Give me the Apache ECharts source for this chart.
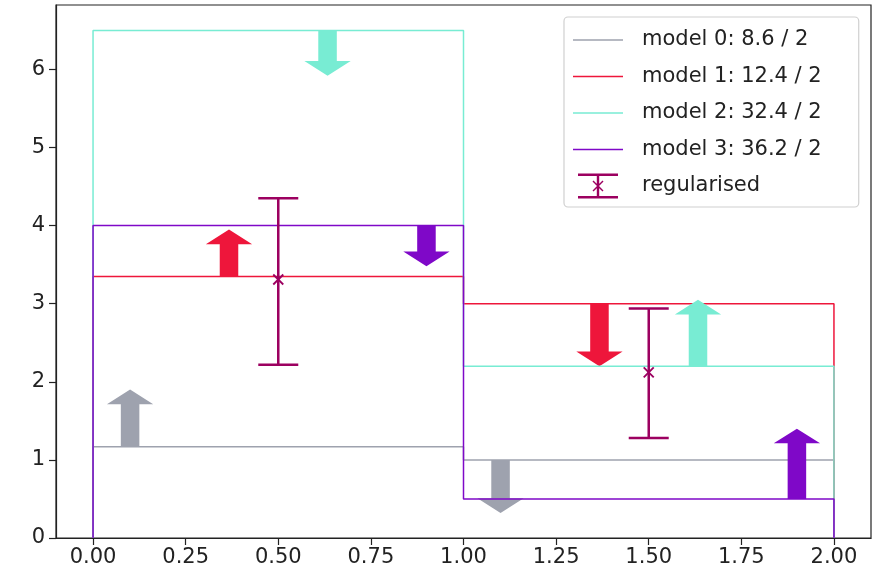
<!DOCTYPE html>
<html>
<head>
<meta charset="utf-8">
<script src="https://cdn.jsdelivr.net/npm/echarts@6/dist/echarts.min.js"></script>
<style>
html,body{margin:0;padding:0;background:#fff;}
#chart{width:875px;height:578px;}
</style>
</head>
<body>
<div id="chart"></div>
<script>
// ---- data ----
const binEdges = [0, 1, 2];
const modelNames = ['model 0: 8.6 / 2', 'model 1: 12.4 / 2', 'model 2: 32.4 / 2', 'model 3: 36.2 / 2'];
const modelColors = ['#9ea2ae', '#ee163b', '#78ecd3', '#7f08c8'];
const model0 = [1.17, 1.0];
const model1 = [3.35, 3.0];
const model2 = [6.5, 2.2];
const model3 = [4.0, 0.5];
const models = [model0, model1, model2, model3];
// arrows: x positions (one per bin) and length (start at bin value)
const arrowX0 = [0.1, 1.1];
const arrowX1 = [0.367, 1.367];
const arrowX2 = [0.633, 1.633];
const arrowX3 = [0.9, 1.9];
const arrowXs = [arrowX0, arrowX1, arrowX2, arrowX3];
const arrowDy0 = [0.73, -0.68];
const arrowDy1 = [0.6, -0.8];
const arrowDy2 = [-0.58, 0.85];
const arrowDy3 = [-0.52, 0.9];
const arrowDys = [arrowDy0, arrowDy1, arrowDy2, arrowDy3];
// regularised error bars
const regName = 'regularised';
const regX = [0.5, 1.5];
const regY = [3.31, 2.12];
const regLow = [2.22, 1.28];
const regHigh = [4.35, 2.94];
const regColor = '#9c0060';
// axis ticks
const xTicks = [0, 0.25, 0.5, 0.75, 1.0, 1.25, 1.5, 1.75, 2.0];
const yTicks = [0, 1, 2, 3, 4, 5, 6];

// ---- arrow geometry (data units, like matplotlib arrow) ----
const SHAFT_W = 0.05, HEAD_W = 0.125, HEAD_L = 0.1875;

const FONT = 'DejaVu Sans';
const series = [];
models.forEach((vals, k) => {
  const pts = [[binEdges[0], 0]];
  vals.forEach((v, i) => { pts.push([binEdges[i], v]); pts.push([binEdges[i + 1], v]); });
  pts.push([binEdges[binEdges.length - 1], 0]);
  series.push({
    name: modelNames[k], type: 'line', data: pts, symbol: 'none', z: 10 + k * 2,
    color: modelColors[k],
    lineStyle: { color: modelColors[k], width: 1.5 },
    animation: false
  });
  const adata = arrowXs[k].map((x, i) => [x, vals[i], arrowDys[k][i]]);
  series.push({
    name: modelNames[k] + ' arrows', type: 'custom', data: adata, z: 11 + k * 2,
    encode: { x: 0, y: 1 },
    renderItem: function (params, api) {
      const x = api.value(0), y0 = api.value(1), dy = api.value(2);
      const tip = y0 + dy, s = Math.sign(dy), sh = tip - s * HEAD_L;
      const poly = [[x - SHAFT_W / 2, y0], [x - SHAFT_W / 2, sh], [x - HEAD_W / 2, sh], [x, tip],
        [x + HEAD_W / 2, sh], [x + SHAFT_W / 2, sh], [x + SHAFT_W / 2, y0]].map(p => api.coord(p));
      return { type: 'polygon', shape: { points: poly }, style: { fill: modelColors[k] } };
    },
    animation: false
  });
});

series.push({
  name: regName, type: 'custom', z: 30, color: regColor,
  data: regX.map((x, i) => [x, regY[i], regLow[i], regHigh[i]]),
  encode: { x: 0, y: [1, 2, 3] },
  renderItem: function (params, api) {
    const x = api.value(0);
    const c = api.coord([x, api.value(1)]);
    const lo = api.coord([x, api.value(2)]);
    const hi = api.coord([x, api.value(3)]);
    const cap = 20, m = 5;
    const st = { stroke: regColor, lineWidth: 2.5 };
    return {
      type: 'group', children: [
        { type: 'line', shape: { x1: lo[0], y1: lo[1], x2: hi[0], y2: hi[1] }, style: st },
        { type: 'line', shape: { x1: lo[0] - cap, y1: lo[1], x2: lo[0] + cap, y2: lo[1] }, style: st },
        { type: 'line', shape: { x1: hi[0] - cap, y1: hi[1], x2: hi[0] + cap, y2: hi[1] }, style: st },
        { type: 'line', shape: { x1: c[0] - m, y1: c[1] - m, x2: c[0] + m, y2: c[1] + m }, style: { stroke: regColor, lineWidth: 1.8 } },
        { type: 'line', shape: { x1: c[0] - m, y1: c[1] + m, x2: c[0] + m, y2: c[1] - m }, style: { stroke: regColor, lineWidth: 1.8 } }
      ]
    };
  },
  animation: false
});

// legend icons (bounding boxes padded with tiny specks so they keep their proportions)
const lineIcon = 'path://M0,0L0.05,0L0.05,0.05Z M0,11.75L50,11.75L50,13.25L0,13.25Z M49.95,25L50,25L50,24.95Z';
const errIcon = 'path://M0,0L0.05,0L0.05,0.05Z M49.95,25L50,25L50,24.95Z ' +
  'M5,0L45,0L45,2.4L5,2.4Z M5,22.6L45,22.6L45,25L5,25Z M23.8,0L26.2,0L26.2,25L23.8,25Z ' +
  'M19.5,8L20.5,7L30.5,17L29.5,18Z M29.5,7L30.5,8L20.5,18L19.5,17Z';

const option = {
  animation: false,
  backgroundColor: '#fff',
  grid: { left: 56, right: 4, top: 5, bottom: 40, show: true, borderColor: '#222', borderWidth: 1.2, backgroundColor: 'transparent' },
  xAxis: {
    type: 'value', min: -0.1, max: 2.1,
    splitLine: { show: false },
    axisLine: { show: true, onZero: false, lineStyle: { color: '#222', width: 1.2 } },
    axisTick: { show: true, length: 7, customValues: xTicks, lineStyle: { color: '#222', width: 1.2 } },
    axisLabel: { customValues: xTicks, margin: 9, color: '#222', fontFamily: FONT, fontSize: 21,
      formatter: v => v.toFixed(2) }
  },
  yAxis: {
    type: 'value', min: 0, max: 6.825,
    splitLine: { show: false },
    axisLine: { show: true, onZero: false, lineStyle: { color: '#222', width: 1.2 } },
    axisTick: { show: true, length: 7, customValues: yTicks, lineStyle: { color: '#222', width: 1.2 } },
    axisLabel: { customValues: yTicks, margin: 11, color: '#222', fontFamily: FONT, fontSize: 21,
      formatter: v => String(v) }
  },
  legend: {
    orient: 'vertical', left: 564, top: 17,
    padding: [10.5, 37, 8.5, 9],
    itemWidth: 50, itemHeight: 25, itemGap: 11.5,
    selectedMode: false,
    backgroundColor: 'rgba(255,255,255,0.85)',
    borderColor: '#d0d0d0', borderWidth: 1.2, borderRadius: 4,
    textStyle: { fontFamily: FONT, fontSize: 21, color: '#222', padding: [0, 0, 0, 14], lineHeight: 20 },
    data: modelNames.map((n, k) => ({ name: n, icon: lineIcon, itemStyle: { color: modelColors[k] } }))
      .concat([{ name: regName, icon: errIcon, itemStyle: { color: regColor } }])
  },
  series: series
};

const chart = echarts.init(document.getElementById('chart'), null, { renderer: 'canvas' });
chart.setOption(option);
</script>
</body>
</html>
